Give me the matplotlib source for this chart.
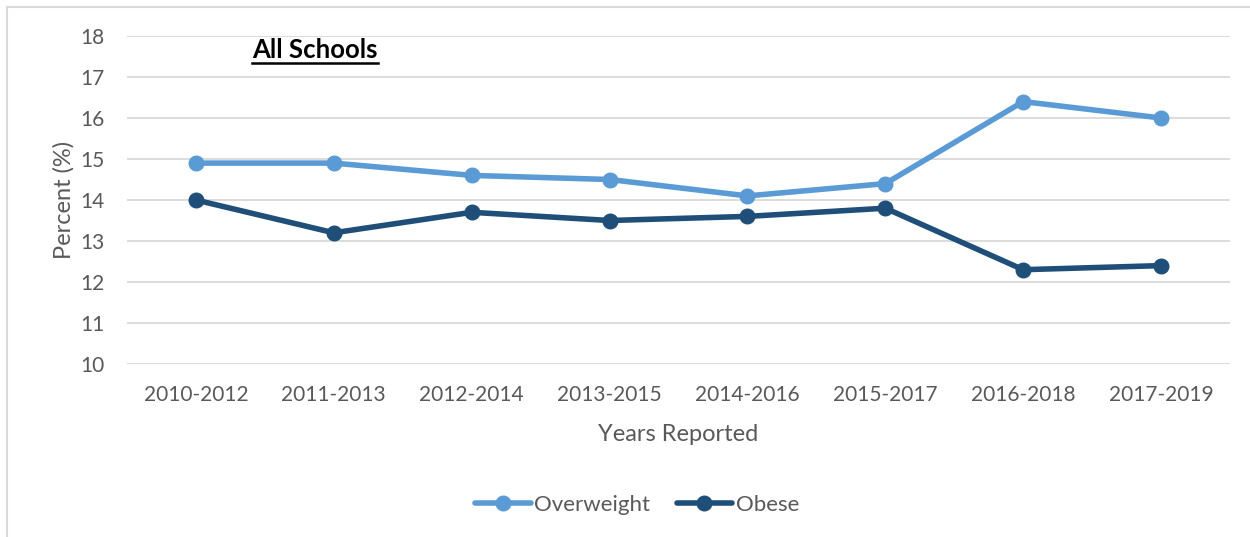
import matplotlib
matplotlib.use("Agg")
import matplotlib.pyplot as plt
from matplotlib.patches import Rectangle
from matplotlib.lines import Line2D

YEARS = ["2010-2012", "2011-2013", "2012-2014", "2013-2015",
         "2014-2016", "2015-2017", "2016-2018", "2017-2019"]
OVERWEIGHT = [14.9, 14.9, 14.6, 14.5, 14.1, 14.4, 16.4, 16.0]
OBESE = [14.0, 13.2, 13.7, 13.5, 13.6, 13.8, 12.3, 12.4]

LIGHT = "#5B9BD5"
DARK = "#1F4E79"
GREY_TXT = "#595959"

plt.rcParams["font.family"] = ["Lato", "DejaVu Sans"]

fig = plt.figure(figsize=(12.5, 5.37), dpi=100)
ax = fig.add_axes([127 / 1250, 1 - 364 / 537, (1230 - 127) / 1250, (364 - 36) / 537])

x = list(range(len(YEARS)))
ax.plot(x, OVERWEIGHT, color=LIGHT, lw=4, marker="o", ms=10.5, label="Overweight",
        solid_capstyle="round", zorder=3)
ax.plot(x, OBESE, color=DARK, lw=4, marker="o", ms=10.5, label="Obese",
        solid_capstyle="round", zorder=3)

ax.set_xlim(-0.5, len(YEARS) - 0.5)
ax.set_ylim(10, 18)
ax.set_yticks(range(10, 19))
ax.set_xticks(x)
ax.set_xticklabels(YEARS)
ax.grid(axis="y", color="#D9D9D9", lw=1.3)
ax.set_axisbelow(True)
for s in ax.spines.values():
    s.set_visible(False)
ax.tick_params(length=0, labelsize=15, colors=GREY_TXT)
ax.tick_params(axis="x", pad=15)
ax.tick_params(axis="y", pad=16)

ax.set_xlabel("Years Reported", fontsize=17, color=GREY_TXT, labelpad=14)
ax.set_ylabel("Percent (%)", fontsize=17, color=GREY_TXT, labelpad=4)

# title, bold + underlined
t = ax.text(252 / 1250, 1 - 50 / 537, "All Schools", transform=fig.transFigure,
            fontsize=18.5, fontweight="bold", color="black", va="center", ha="left")
fig.canvas.draw()
bb = t.get_window_extent().transformed(fig.transFigure.inverted())
fig.add_artist(Line2D([bb.x0, bb.x1], [bb.y0 - 0.001, bb.y0 - 0.001],
                      transform=fig.transFigure, color="black", lw=1.8))

fig.legend(loc="center", bbox_to_anchor=(637 / 1250, 1 - 505 / 537), ncol=2,
           frameon=False, fontsize=16, labelcolor=GREY_TXT, handlelength=2.5,
           handletextpad=0.15, columnspacing=1.2)

# chart-area border
fig.add_artist(Rectangle((7 / 1250, -0.1), 1.2, 1 - 7 / 537 + 0.1,
                         transform=fig.transFigure, fill=False,
                         edgecolor="#D9D9D9", lw=1.5))

fig.savefig("out.png", dpi=100)
